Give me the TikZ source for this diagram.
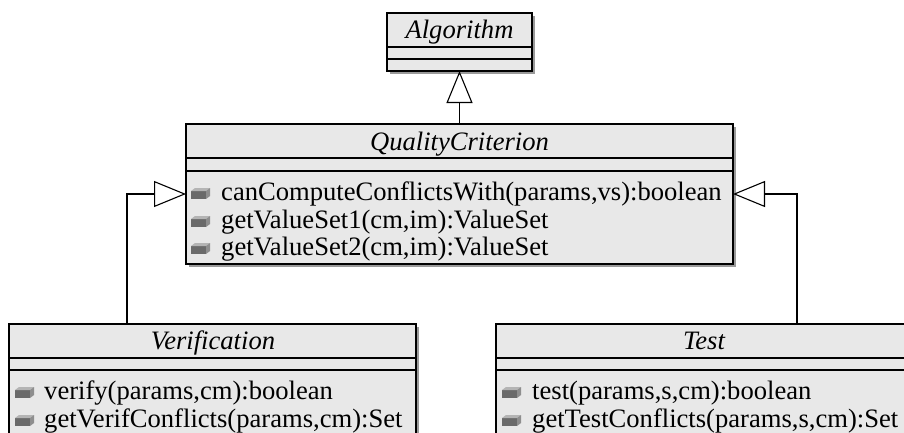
\documentclass[tikz,border=0pt]{standalone}
\usepackage{fontspec}
\setmainfont{Liberation Serif}
\usetikzlibrary{arrows.meta,shadows}
\definecolor{boxfill}{HTML}{E8E8E8}
\definecolor{shadowgray}{HTML}{9A9A9A}
\definecolor{icondark}{HTML}{6A6A6A}
\definecolor{iconmid}{HTML}{8E8E8E}
\definecolor{iconlight}{HTML}{B4B4B4}
\begin{document}
\begin{tikzpicture}[x=1pt,y=-1pt,
  cls/.style={draw=black, line width=1.3pt, fill=boxfill, inner sep=0pt, outer sep=0pt,
    drop shadow={shadow xshift=3pt, shadow yshift=-3pt, fill=shadowgray, opacity=1}},
  sep/.style={line width=1.3pt},
  title/.style={font=\fontsize{26.6pt}{28pt}\selectfont\itshape, inner sep=0pt, anchor=base},
  optext/.style={font=\fontsize{26.6pt}{28pt}\selectfont, inner sep=0pt, anchor=base west},
  inh/.style={line width=1.1pt, -{Triangle[open, length=32pt, width=26pt, line width=1.1pt]}},
  opicon/.pic={
    \fill[icondark] (0,0) rectangle (15,-8);
    \fill[iconlight] (0,-8) -- (15,-8) -- (19,-11) -- (4,-11) -- cycle;
    \fill[iconmid] (15,-8) -- (19,-11) -- (19,-3) -- (15,0) -- cycle;
  }]
\useasboundingbox (0,0) rectangle (904,432);
\clip (0,0) rectangle (904,432);

% Algorithm
\node[cls, minimum width=145pt, minimum height=58pt] (alg) at (459.5,42) {};
\draw[sep] ([yshift=-34pt]alg.north west) -- ([yshift=-34pt]alg.north east);
\draw[sep] ([yshift=-46pt]alg.north west) -- ([yshift=-46pt]alg.north east);
\node[title] (algt) at (459.5,38) {Algorithm};

% QualityCriterion
\node[cls, minimum width=547pt, minimum height=140pt] (qc) at (459.5,194) {};
\draw[sep] ([yshift=-34pt]qc.north west) -- ([yshift=-34pt]qc.north east);
\draw[sep] ([yshift=-47pt]qc.north west) -- ([yshift=-47pt]qc.north east);
\node[title] (qct) at (459.5,150) {QualityCriterion};
\pic at (191,199) {opicon};
\pic at (191,227) {opicon};
\pic at (191,254) {opicon};
\node[optext] (qc1) at (221,200) {canComputeConflictsWith(params,vs):boolean};
\node[optext] (qc2) at (221,228) {getValueSet1(cm,im):ValueSet};
\node[optext] (qc3) at (221,255) {getValueSet2(cm,im):ValueSet};

% Verification
\node[cls, minimum width=407pt, minimum height=140pt] (ver) at (212.5,394) {};
\draw[sep] ([yshift=-34pt]ver.north west) -- ([yshift=-34pt]ver.north east);
\draw[sep] ([yshift=-46pt]ver.north west) -- ([yshift=-46pt]ver.north east);
\node[title] (vert) at (213,349) {Verification};
\pic at (15,398) {opicon};
\pic at (15,426) {opicon};
\node[optext] (ver1) at (44,399) {verify(params,cm):boolean};
\node[optext] (ver2) at (44,427) {getVerifConflicts(params,cm):Set};

% Test
\node[cls, minimum width=416pt, minimum height=140pt] (tst) at (704,394) {};
\draw[sep] ([yshift=-34pt]tst.north west) -- ([yshift=-34pt]tst.north east);
\draw[sep] ([yshift=-46pt]tst.north west) -- ([yshift=-46pt]tst.north east);
\node[title] (tstt) at (704,349) {Test};
\pic at (502,398) {opicon};
\pic at (502,426) {opicon};
\node[optext] (tst1) at (532,399) {test(params,s,cm):boolean};
\node[optext] (tst2) at (532,427) {getTestConflicts(params,s,cm):Set};

% Connectors
\draw[inh] (qc.north) -- (alg.south);
\coordinate (vtop) at (127,324);
\coordinate (ttop) at (797,324);
\draw[inh] (vtop) |- (qc.west);
\draw[inh] (ttop) |- (qc.east);
\end{tikzpicture}
\end{document}
